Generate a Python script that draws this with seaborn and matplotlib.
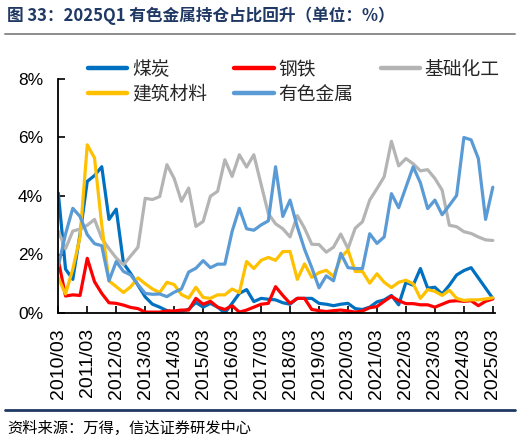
import matplotlib
matplotlib.use("Agg")
import matplotlib.pyplot as plt
import pandas as pd
import seaborn as sns

# ---------------- data ----------------
quarters = [f"{y}/{m:02d}" for y in range(2010, 2026) for m in (3, 6, 9, 12)][:61]
tick_labels = [f"{y}/03" for y in range(2010, 2026)]
y_ticks = [0, 2, 4, 6, 8]
y_tick_labels = ["0%", "2%", "4%", "6%", "8%"]

series_names = ["煤炭", "钢铁", "基础化工", "建筑材料", "有色金属"]

coal = [4.1, 1.5, 1.15, 2.7, 4.5, 4.7, 5.0, 3.2, 3.55, 1.7,
        1.35, 0.95, 0.55, 0.3, 0.2, 0.08, 0.02, 0.05, 0.13, 0.36,
        0.2, 0.33, 0.2, 0.0, 0.33, 0.67, 0.8, 0.39, 0.5, 0.47,
        0.45, 0.35, 0.3, 0.5, 0.5, 0.5, 0.33, 0.3, 0.25, 0.3,
        0.33, 0.15, 0.12, 0.2, 0.38, 0.45, 0.6, 0.28, 1.05, 0.95,
        1.52, 0.85, 0.88, 0.65, 0.95, 1.3, 1.45, 1.55, 1.2, 0.85,
        0.5]
steel = [1.8, 0.58, 0.62, 0.6, 1.87, 1.07, 0.67, 0.35, 0.33, 0.27,
         0.19, 0.15, 0.03, 0.03, 0.03, 0.07, 0.07, 0.1, 0.1, 0.5,
         0.3, 0.4, 0.2, 0.12, 0.25, 0.03, 0.1, 0.2, 0.3, 0.33,
         0.9, 0.6, 0.33, 0.5, 0.5, 0.12, 0.08, 0.05, 0.08, 0.1,
         0.07, 0.03, 0.07, 0.18, 0.22, 0.4, 0.57, 0.42, 0.32, 0.32,
         0.28, 0.28, 0.2, 0.3, 0.4, 0.42, 0.4, 0.42, 0.25, 0.4,
         0.48]
chemical = [2.8, 2.2, 2.8, 2.87, 3.0, 3.2, 2.55, 2.2, 1.88, 1.65,
            1.95, 2.25, 3.92, 3.88, 3.98, 5.07, 4.6, 3.82, 4.27, 2.96,
            3.13, 3.99, 4.16, 5.24, 4.67, 5.41, 4.99, 5.41, 4.4, 3.4,
            3.05, 2.88, 2.6, 3.33, 2.9, 2.35, 2.34, 2.08, 2.25, 2.7,
            2.2, 2.9, 3.12, 3.86, 4.25, 4.66, 5.87, 5.03, 5.28, 5.1,
            4.86, 4.9, 4.6, 4.2, 3.0, 2.95, 2.78, 2.72, 2.6, 2.5,
            2.48]
building = [1.2, 0.65, 1.5, 2.6, 5.75, 5.3, 3.0, 1.1, 0.9, 0.7,
            0.9, 1.2, 1.0, 0.82, 0.7, 1.05, 0.97, 0.63, 0.51, 0.88,
            0.53, 0.5, 0.62, 0.62, 0.82, 0.7, 1.76, 1.52, 1.8, 1.9,
            1.8, 2.1, 2.1, 1.15, 1.68, 1.22, 1.38, 1.46, 1.25, 1.9,
            2.15, 1.42, 1.42, 1.02, 1.34, 1.05, 0.87, 1.05, 1.12, 1.0,
            0.5, 0.8, 0.74, 0.6, 0.78, 0.5, 0.43, 0.45, 0.45, 0.48,
            0.52]
nonferrous = [1.6, 2.7, 3.58, 3.3, 2.68, 2.37, 2.3, 1.1, 1.76, 1.42,
              1.3, 0.97, 0.67, 0.64, 0.65, 0.56, 0.71, 0.82, 1.4, 1.53,
              1.79, 1.55, 1.67, 1.67, 2.79, 3.58, 2.88, 2.83, 3.01, 3.15,
              5.0, 3.3, 3.86, 2.95, 2.18, 1.55, 0.86, 1.27, 1.1, 2.04,
              1.55, 1.52, 1.52, 2.71, 2.38, 2.6, 4.08, 3.6, 4.3, 5.0,
              4.45, 3.57, 3.86, 3.36, 3.68, 4.02, 6.0, 5.92, 5.28, 3.2,
              4.3]

colors = {"煤炭": "#0070C0", "钢铁": "#FF0000", "基础化工": "#B4B4B4",
          "建筑材料": "#FFC000", "有色金属": "#5B9BD5"}

# ---------------- frame ----------------
values = dict(zip(series_names, [coal, steel, chemical, building, nonferrous]))
rows = []
for name in series_names:
    for i, (q, v) in enumerate(zip(quarters, values[name])):
        rows.append({"idx": i, "quarter": q, "series": name, "value": v})
df = pd.DataFrame(rows)

# ---------------- style ----------------
sns.set_style("ticks")
plt.rcParams["font.family"] = ["Noto Sans CJK SC", "DejaVu Sans"]
num_font = ["Liberation Sans Narrow", "Liberation Sans", "DejaVu Sans"]

fig = plt.figure(figsize=(5.2, 4.41), dpi=100)
W, H = 520.0, 441.0
ax = fig.add_axes([58.3 / W, (H - 313) / H, (495 - 58.3) / W, (313 - 79) / H])

sns.lineplot(data=df, x="idx", y="value", hue="series", hue_order=series_names,
             palette=colors, linewidth=2.3, ax=ax, legend=True)

handles, labels = ax.get_legend_handles_labels()
ax.get_legend().remove()
hmap = dict(zip(labels, handles))
order = ["煤炭", "建筑材料", "钢铁", "有色金属", "基础化工"]
leg = fig.legend([hmap[k] for k in order], order, ncol=3, frameon=False,
                 loc="upper left", bbox_to_anchor=(88 / W, 1 - 59 / H),
                 prop={"family": ["Noto Sans CJK SC"], "size": 13.5, "weight": "light"},
                 handlelength=2.1, handletextpad=0.25, columnspacing=1.45,
                 labelspacing=0.2, borderpad=0, borderaxespad=0)
for lh in leg.get_lines():
    lh.set_linewidth(3.2)

ax.set_xlim(0, 60.3)
ax.set_ylim(0, 8)
ax.set_xticks(list(range(0, 61, 4)))
ax.set_xticklabels(tick_labels, rotation=90, family=num_font, fontsize=14)
ax.set_yticks(y_ticks)
ax.set_yticklabels(y_tick_labels, family=num_font, fontsize=12.5)
ax.tick_params(axis="x", direction="in", length=5, width=1.2, pad=11, colors="black")
ax.tick_params(axis="y", direction="in", length=5, width=1.2, pad=11, colors="black")
ax.set_xlabel("")
ax.set_ylabel("")
for s in ["top", "right"]:
    ax.spines[s].set_visible(False)
for s in ["left", "bottom"]:
    ax.spines[s].set_linewidth(1.3)
    ax.spines[s].set_color("black")

# ---------------- title / source ----------------
fig.text(7 / W, 1 - 16 / H, "图 33：2025Q1 有色金属持仓占比回升（单位：%）",
         fontsize=12, fontweight="bold", color="#1F3864", va="center", ha="left")
fig.add_artist(plt.Line2D([5 / W, 515 / W], [1 - 33.5 / H, 1 - 33.5 / H],
                          color="#8C8C8C", linewidth=1.4))
fig.add_artist(plt.Line2D([5 / W, 515 / W], [1 - 410 / H, 1 - 410 / H],
                          color="#1F3864", linewidth=2.0))
fig.text(7 / W, 1 - 428 / H, "资料来源：万得，信达证券研发中心",
         fontsize=11, fontweight="light", color="black", va="center", ha="left",
         fontstyle="italic")

fig.savefig("out.png", dpi=100)
